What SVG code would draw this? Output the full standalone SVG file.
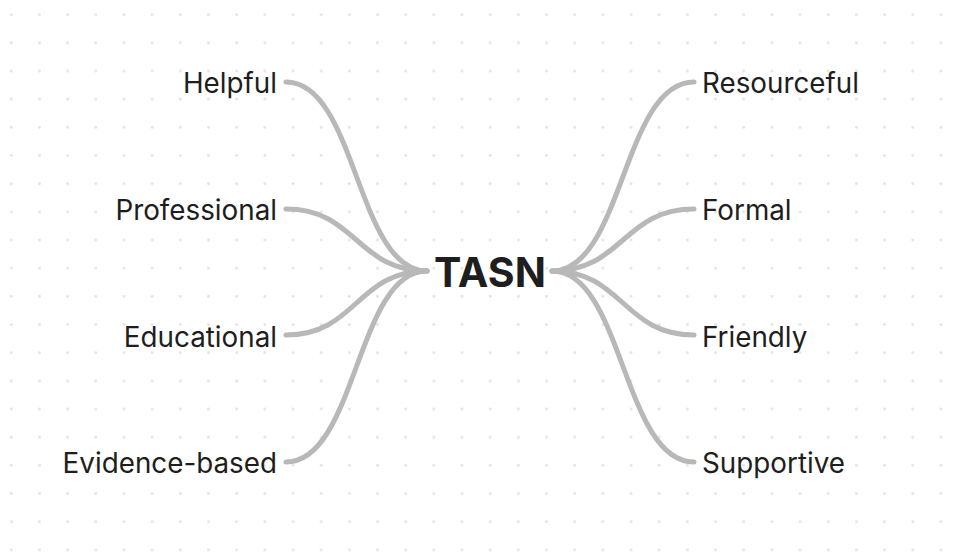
<svg xmlns="http://www.w3.org/2000/svg" width="956" height="557" viewBox="0 0 956 557">
<defs>
<pattern id="dots" patternUnits="userSpaceOnUse" x="-2.78" y="0.62" width="28.17" height="28.17">
<circle cx="14.08" cy="14.08" r="1.4" fill="#e2e2e2"/>
</pattern>
<style>
.lbl{font-family:Inter,"Noto Sans",sans-serif;font-size:27.8px;fill:#1e1e1e}
.root{font-family:Inter,"Noto Sans",sans-serif;font-size:41px;font-weight:700;fill:#1e1e1e}
.edge{fill:none;stroke:#b8b8b8;stroke-width:5;stroke-linecap:round}
</style>
</defs>
<rect width="956" height="557" fill="#ffffff"/>
<rect width="956" height="557" fill="url(#dots)"/>
<g id="connectors">
<path class="edge" d="M286,82 C356.5,82 356.5,271 427,271"/>
<path class="edge" d="M286,209 C356.5,209 356.5,271 427,271"/>
<path class="edge" d="M286,335 C356.5,335 356.5,271 427,271"/>
<path class="edge" d="M286,462 C356.5,462 356.5,271 427,271"/>
<path class="edge" d="M552,271 C623,271 623,82 694,82"/>
<path class="edge" d="M552,271 C623,271 623,209 694,209"/>
<path class="edge" d="M552,271 C623,271 623,335 694,335"/>
<path class="edge" d="M552,271 C623,271 623,462 694,462"/>
</g>
<g id="root"><text class="root" x="490" y="287" text-anchor="middle">TASN</text></g>
<g id="helpful"><text class="lbl" x="277" y="92.5" text-anchor="end">Helpful</text></g>
<g id="professional"><text class="lbl" x="277" y="219.5" text-anchor="end">Professional</text></g>
<g id="educational"><text class="lbl" x="277" y="346.5" text-anchor="end">Educational</text></g>
<g id="evidence"><text class="lbl" x="277" y="472.5" text-anchor="end">Evidence-based</text></g>
<g id="resourceful"><text class="lbl" x="702" y="92.5">Resourceful</text></g>
<g id="formal"><text class="lbl" x="702" y="219.5">Formal</text></g>
<g id="friendly"><text class="lbl" x="702" y="346.5">Friendly</text></g>
<g id="supportive"><text class="lbl" x="702" y="472.5">Supportive</text></g>
</svg>
